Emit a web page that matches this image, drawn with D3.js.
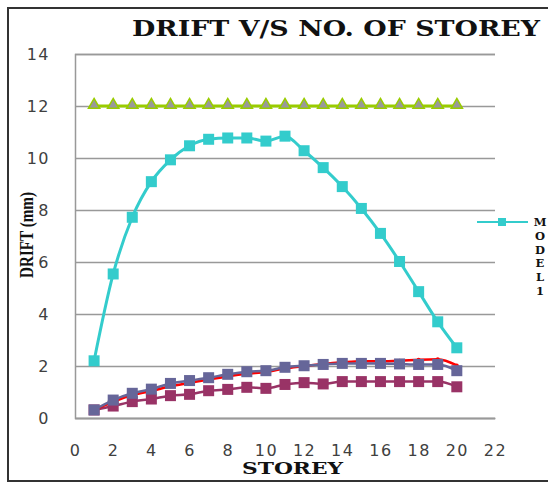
<!DOCTYPE html>
<html>
<head>
<meta charset="utf-8">
<script src="https://cdn.jsdelivr.net/npm/d3@7"></script>
<style>
  html, body { margin: 0; padding: 0; background: #fff; }
  svg { display: block; }
</style>
</head>
<body>
<svg id="chart" width="548" height="483"></svg>
<script>
// Storey numbers along the x axis
const storeys = d3.range(1, 21);

// Drift (mm) per storey for each series
const model1 = [2.2, 5.54, 7.72, 9.09, 9.93, 10.47, 10.72, 10.77, 10.77, 10.65,
                10.84, 10.28, 9.63, 8.9, 8.06, 7.1, 6.02, 4.86, 3.7, 2.7];
const limitDrift = Array(20).fill(12);
const seriesPurple = [0.31, 0.69, 0.95, 1.11, 1.33, 1.44, 1.55, 1.68, 1.78, 1.82,
                      1.95, 2.01, 2.06, 2.1, 2.1, 2.1, 2.08, 2.06, 2.06, 1.82];
const seriesRed = [0.31, 0.62, 0.88, 1.04, 1.22, 1.35, 1.48, 1.6, 1.7, 1.77,
                   1.9, 2.0, 2.08, 2.14, 2.18, 2.18, 2.2, 2.24, 2.26, 2.02];
const seriesMaroon = [0.31, 0.46, 0.63, 0.73, 0.86, 0.91, 1.05, 1.1, 1.18, 1.14,
                      1.29, 1.36, 1.31, 1.4, 1.4, 1.4, 1.4, 1.4, 1.4, 1.2];

// Axis ticks
const xTicks = d3.range(0, 23, 2);
const yTicks = d3.range(0, 15, 2);

const svg = d3.select("#chart");

const x = d3.scaleLinear().domain([0, 22]).range([75, 495]);
const y = d3.scaleLinear().domain([0, 14]).range([418, 54]);

// Outer chart frame
svg.append("rect")
  .attr("x", 8).attr("y", 8)
  .attr("width", 560).attr("height", 473)
  .attr("fill", "none").attr("stroke", "#333").attr("stroke-width", 2);

// Title
svg.append("text")
  .attr("x", 132).attr("y", 36)
  .attr("textLength", 408).attr("lengthAdjust", "spacingAndGlyphs")
  .attr("font-family", "'DejaVu Serif', serif").attr("font-weight", "bold")
  .attr("font-size", 22).attr("fill", "#111")
  .text("DRIFT V/S NO. OF STOREY");

// Horizontal gridlines
const yAxis = d3.axisLeft(y).tickValues(yTicks).tickSize(-(495 - 75)).tickFormat(d3.format("d"));
const gy = svg.append("g").attr("transform", "translate(75,0)").call(yAxis);
gy.select(".domain").attr("stroke", "#999").attr("stroke-width", 1.5);
gy.selectAll(".tick line").attr("stroke", "#999").attr("stroke-width", 1.5);
gy.selectAll(".tick text")
  .attr("x", -25)
  .attr("font-family", "'DejaVu Sans', sans-serif").attr("font-size", 16)
  .attr("letter-spacing", 1.5)
  .attr("fill", "#404040");

// Bottom axis with labels
const xAxis = d3.axisBottom(x).tickValues(xTicks).tickSize(0).tickFormat(d3.format("d"));
const gx = svg.append("g").attr("transform", "translate(0,418)").call(xAxis);
gx.select(".domain").attr("stroke", "#999").attr("stroke-width", 1.5);
gx.selectAll(".tick text")
  .attr("y", 27)
  .attr("font-family", "'DejaVu Sans', sans-serif").attr("font-size", 16)
  .attr("letter-spacing", 1.5)
  .attr("fill", "#404040");

// Axis titles
svg.append("text")
  .attr("transform", "translate(33,235) rotate(-90)")
  .attr("text-anchor", "middle")
  .attr("textLength", 86).attr("lengthAdjust", "spacingAndGlyphs")
  .attr("font-family", "'Liberation Serif', serif").attr("font-weight", "bold")
  .attr("font-size", 18).attr("fill", "#111")
  .text("DRIFT (mm)");

svg.append("text")
  .attr("x", 242).attr("y", 474)
  .attr("textLength", 101).attr("lengthAdjust", "spacingAndGlyphs")
  .attr("font-family", "'DejaVu Serif', serif").attr("font-weight", "bold")
  .attr("font-size", 16).attr("fill", "#111")
  .text("STOREY");

const line = d3.line().x((d, i) => x(storeys[i])).y(d => y(d)).curve(d3.curveMonotoneX);

function drawLine(values, color, width) {
  svg.append("path").datum(values)
    .attr("d", line)
    .attr("fill", "none").attr("stroke", color).attr("stroke-width", width);
}

function drawSquares(values, color, size) {
  svg.append("g").selectAll("rect").data(values).join("rect")
    .attr("x", (d, i) => x(storeys[i]) - size / 2)
    .attr("y", d => y(d) - size / 2)
    .attr("width", size).attr("height", size)
    .attr("fill", color);
}

// Maroon series
drawLine(seriesMaroon, "#993366", 2.5);
drawSquares(seriesMaroon, "#993366", 11);

// Red series
drawLine(seriesRed, "#ff0000", 2.5);
svg.append("g").selectAll("circle").data(seriesRed).join("circle")
  .attr("cx", (d, i) => x(storeys[i])).attr("cy", d => y(d))
  .attr("r", 2).attr("fill", "#ff0000");

// Purple series
drawLine(seriesPurple, "#666699", 2.5);
drawSquares(seriesPurple, "#666699", 11);

// MODEL1
drawLine(model1, "#33cccc", 3);
drawSquares(model1, "#33cccc", 11);

// Permissible drift line with triangle markers
drawLine(limitDrift, "#99cc00", 3);
const tri = d3.symbol().type(d3.symbolTriangle).size(55);
svg.append("g").selectAll("path").data(limitDrift).join("path")
  .attr("transform", (d, i) => `translate(${x(storeys[i])},${y(d) - 1})`)
  .attr("d", tri)
  .attr("fill", "#999").attr("stroke", "#99cc00").attr("stroke-width", 1.5);

// Legend entry
const lg = svg.append("g");
lg.append("line").attr("x1", 477).attr("x2", 528).attr("y1", 222).attr("y2", 222)
  .attr("stroke", "#33cccc").attr("stroke-width", 2);
lg.append("rect").attr("x", 498).attr("y", 218).attr("width", 8).attr("height", 8)
  .attr("fill", "#33cccc");
const legendLetters = "MODEL1".split("");
lg.selectAll("text").data(legendLetters).join("text")
  .attr("x", 540).attr("y", (d, i) => 226 + i * 13.8)
  .attr("text-anchor", "middle")
  .attr("font-family", "'DejaVu Serif', serif").attr("font-weight", "bold")
  .attr("font-size", 11.5).attr("fill", "#111")
  .text(d => d);
</script>
</body>
</html>
